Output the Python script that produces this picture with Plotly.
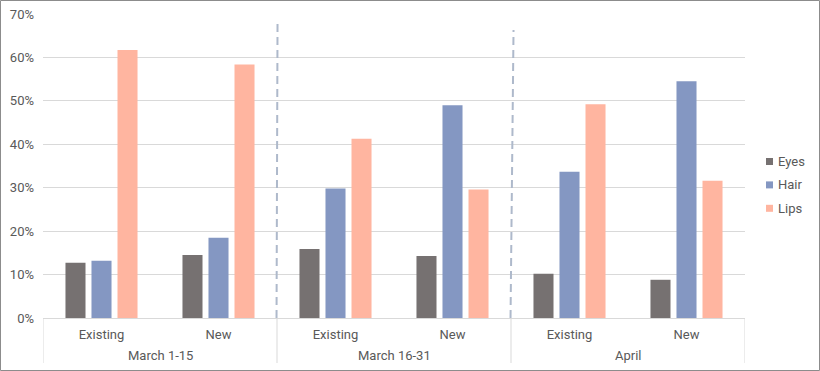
import plotly.graph_objects as go

periods = ["March 1-15", "March 1-15", "March 16-31", "March 16-31", "April", "April"]
customer = ["Existing", "New", "Existing", "New", "Existing", "New"]
eyes = [0.127, 0.145, 0.159, 0.143, 0.102, 0.088]
hair = [0.132, 0.185, 0.298, 0.490, 0.337, 0.545]
lips = [0.617, 0.584, 0.413, 0.296, 0.492, 0.316]
series_names = ["Eyes", "Hair", "Lips"]
colors = ["#767171", "#8497C2", "#FFB5A0"]

W, H = 820, 371
ml, mr, mt, mb = 43, 75, 14, 53
pw, ph = W - ml - mr, H - mt - mb
TXT = "#595959"
GRID = "#d9d9d9"


def px2x(px):
    return (px - ml) / pw


def px2y(py):
    return (H - mb - py) / ph


xs = list(range(len(customer)))

fig = go.Figure()
for name, vals, c in zip(series_names, [eyes, hair, lips], colors):
    fig.add_trace(go.Bar(x=xs, y=vals, name=name, marker_color=c,
                         marker_line_width=0, showlegend=False))

fig.update_layout(
    width=W, height=H, margin=dict(l=ml, r=mr, t=mt, b=mb, autoexpand=False),
    paper_bgcolor="white", plot_bgcolor="white",
    barmode="group", bargap=0.333, bargroupgap=0.23,
    font=dict(family="Roboto", size=13, color=TXT),
    showlegend=False,
    yaxis=dict(range=[0, 0.7], dtick=0.1, tickformat=".0%", gridcolor=GRID,
               gridwidth=1, zeroline=False, showline=False, ticks="",
               automargin=False, ticklabelstandoff=8,
               tickfont=dict(size=13, color=TXT)),
    xaxis=dict(range=[-0.5, len(xs) - 0.5], tickvals=xs, ticktext=customer,
               showline=True, linecolor=GRID, showgrid=False, zeroline=False,
               automargin=False, ticks="", ticklabelstandoff=4,
               tickfont=dict(size=13, color=TXT)),
)

# group labels and dividers under the axis
groups = []
for i, p in enumerate(periods):
    if not groups or groups[-1][0] != p:
        groups.append([p, i, i])
    else:
        groups[-1][2] = i
for p, i0, i1 in groups:
    fig.add_annotation(x=(i0 + i1) / 2, y=px2y(355), xref="x", yref="paper",
                       text=p, showarrow=False, yanchor="middle",
                       font=dict(size=13, color=TXT))
bounds = [-0.5] + [g[2] + 0.5 for g in groups]
for b in bounds:
    fig.add_shape(type="line", xref="x", yref="paper", x0=b, x1=b,
                  y0=0, y1=px2y(363), line=dict(color=GRID, width=1))

# dashed separators between periods
tops = [0.682, 0.663]
for b, t, s in zip(bounds[1:-1], tops, [1 / 117, 3 / 117]):
    fig.add_shape(type="line", xref="x", yref="y", x0=b - 0.004, x1=b - 0.004 + s,
                  y0=0, y1=t, line=dict(color="#AEB9CB", width=2, dash="8px,5px"))

# legend
for i, (name, c) in enumerate(zip(series_names, colors)):
    cy = 161.5 + 23.4 * i
    fig.add_shape(type="rect", xref="paper", yref="paper",
                  x0=px2x(766), x1=px2x(773), y0=px2y(cy + 3.5), y1=px2y(cy - 3.5),
                  fillcolor=c, line=dict(width=0))
    fig.add_annotation(x=px2x(775.5), y=px2y(cy), xref="paper", yref="paper",
                       text=name, showarrow=False, xanchor="left", yanchor="middle",
                       font=dict(size=13, color=TXT))

# outer border
fig.add_shape(type="rect", xref="paper", yref="paper",
              x0=px2x(0.5), x1=px2x(W - 0.5), y0=px2y(H - 0.5), y1=px2y(0.5),
              line=dict(color="#8c8c8c", width=1), layer="below")

fig.write_html("out.html", config={"displayModeBar": False},
               post_script="document.body.style.margin='0px';")
